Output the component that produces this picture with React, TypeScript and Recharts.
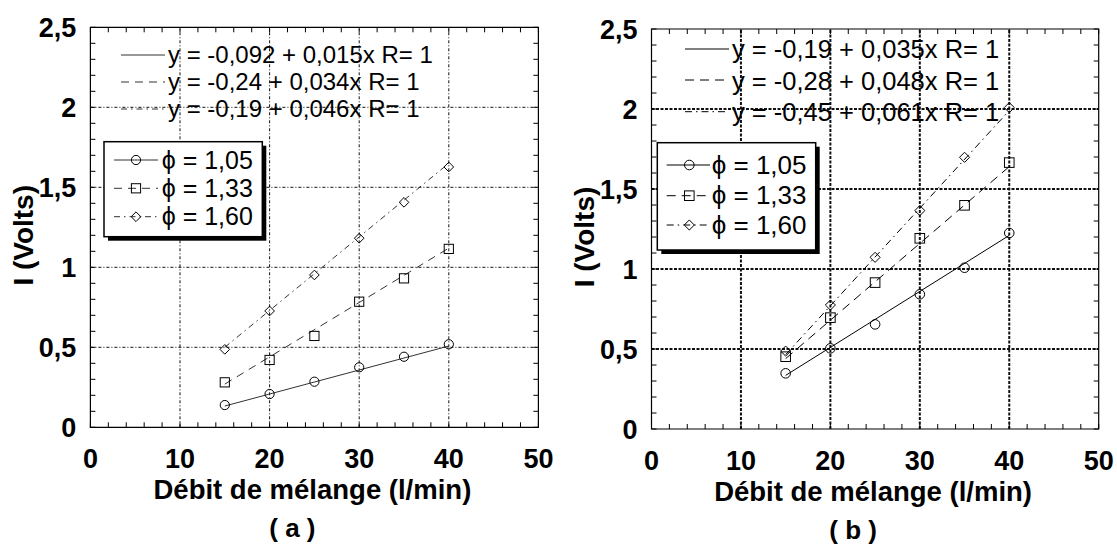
import React from 'react'
import {
  ComposedChart, XAxis, YAxis, Scatter, ReferenceLine, ReferenceArea, Label,
} from 'recharts'

// Flow rates (l/min) common to both panels
const flowRates = [15, 20, 25, 30, 35, 40]
const phiLabels = ['1,05', '1,33', '1,60']

// Panel (a): measured current I (V)
const aPhi105 = [0.139, 0.208, 0.285, 0.375, 0.441, 0.519]
const aPhi133 = [0.281, 0.421, 0.571, 0.785, 0.931, 1.115]
const aPhi160 = [0.487, 0.727, 0.952, 1.182, 1.406, 1.627]
const aIntercepts = [-0.092, -0.24, -0.19]
const aSlopes = [0.015, 0.034, 0.046]

// Panel (b)
const bPhi105 = [0.348, 0.504, 0.654, 0.842, 1.008, 1.225]
const bPhi133 = [0.452, 0.696, 0.915, 1.192, 1.398, 1.665]
const bPhi160 = [0.487, 0.775, 1.073, 1.365, 1.698, 2.009]
const bIntercepts = [-0.19, -0.28, -0.45]
const bSlopes = [0.035, 0.048, 0.061]

// Axes
const xTicks = [0, 2, 4, 6, 8, 10, 12, 14, 16, 18, 20, 22, 24, 26, 28, 30, 32, 34, 36, 38, 40, 42, 44, 46, 48, 50]
const yTicks = [0, 0.1, 0.2, 0.3, 0.4, 0.5, 0.6, 0.7, 0.8, 0.9, 1, 1.1, 1.2, 1.3, 1.4, 1.5, 1.6, 1.7, 1.8, 1.9, 2, 2.1, 2.2, 2.3, 2.4, 2.5]
const xGrid = [10, 20, 30, 40]
const yGrid = [0.5, 1, 1.5, 2]

const FONT = '"Liberation Sans", Arial, Helvetica, sans-serif'
const W = 560
const H = 545
const X_AXIS_H = 30

const comma = (v: number) => String(v).replace('.', ',')
const markerKinds = ['circle', 'square', 'diamond']

function Marker({ kind, cx, cy, size, stroke }: { kind: string; cx: number; cy: number; size: number; stroke: string }) {
  if (kind === 'circle') return <circle cx={cx} cy={cy} r={size} fill="none" stroke={stroke} strokeWidth={1} />
  if (kind === 'square') return <rect x={cx - size} y={cy - size} width={size * 2} height={size * 2} fill="none" stroke={stroke} strokeWidth={1} />
  const d = size * 1.05
  return <path d={`M${cx},${cy - d}L${cx + d},${cy}L${cx},${cy + d}L${cx - d},${cy}Z`} fill="none" stroke={stroke} strokeWidth={1} />
}

interface Panel {
  left: number
  plot: { left: number; right: number; top: number; bottom: number }
  series: number[][]
  intercepts: number[]
  slopes: number[]
  caption: string
  ink: string
  fitDash: (string | undefined)[]
  gridDash: string
  gridWidth: number
  eq: { keyX: [number, number]; keyY: number[]; textX: number; baseY: number[]; font: number }
  box: { x: number; y: number; w: number; h: number; rowY: number[]; keyX: [number, number]; markX: number; textX: number; font: number }
  markSize: number
}

const panels: Panel[] = [
  {
    left: 0,
    plot: { left: 90.4, right: 538.4, top: 27.3, bottom: 427.3 },
    series: [aPhi105, aPhi133, aPhi160],
    intercepts: aIntercepts,
    slopes: aSlopes,
    caption: '( a )',
    ink: '#333',
    fitDash: [undefined, '8 6', '6 4 1.5 4'],
    gridDash: '3 2 1 2',
    gridWidth: 1,
    eq: { keyX: [121, 165], keyY: [55, 82, 109], textX: 168, baseY: [63, 90, 117], font: 24 },
    box: { x: 104, y: 141.7, w: 158.3, h: 95, rowY: [160, 188.3, 216.7], keyX: [114, 158], markX: 136, textX: 161.7, font: 25 },
    markSize: 4.6,
  },
  {
    left: 557,
    plot: { left: 94.5, right: 541.7, top: 29, bottom: 429 },
    series: [bPhi105, bPhi133, bPhi160],
    intercepts: bIntercepts,
    slopes: bSlopes,
    caption: '( b )',
    ink: '#000',
    fitDash: [undefined, '9 6', '7 4 1.5 4'],
    gridDash: '3 1.5',
    gridWidth: 2,
    eq: { keyX: [128, 172], keyY: [49, 80, 111.7], textX: 175, baseY: [58.3, 90, 120.7], font: 25.5 },
    box: { x: 100.3, y: 142.7, w: 158.4, h: 107.3, rowY: [165, 195.7, 225], keyX: [109.7, 153], markX: 132.3, textX: 154.7, font: 26 },
    markSize: 4.8,
  },
]

function PanelChart({ p }: { p: Panel }) {
  const { plot } = p
  const plotW = plot.right - plot.left
  const plotH = plot.bottom - plot.top
  const cx = (plot.left + plot.right) / 2
  const cy = (plot.top + plot.bottom) / 2
  const x0 = flowRates[0]
  const x1 = flowRates[flowRates.length - 1]

  const bottomTick = (t: any) => {
    const v = t.payload.value
    return (
      <g>
        <line x1={t.x} x2={t.x} y1={t.y} y2={t.y - 5} stroke="#000" />
        <line x1={t.x} x2={t.x} y1={t.y - plotH} y2={t.y - plotH + 5} stroke="#000" />
        {v % 10 === 0 && (
          <text x={t.x} y={t.y + 41} textAnchor="middle" fontFamily={FONT} fontWeight="bold" fontSize={27} fill="#000">
            {v}
          </text>
        )}
      </g>
    )
  }

  const leftTick = (t: any) => {
    const v = t.payload.value
    const major = Math.round(v * 10) % 5 === 0
    return (
      <g>
        <line x1={t.x} x2={t.x + 5} y1={t.y} y2={t.y} stroke="#000" />
        <line x1={t.x + plotW} x2={t.x + plotW - 5} y1={t.y} y2={t.y} stroke="#000" />
        {major && (
          <text x={t.x - 14} y={t.y + 9.6} textAnchor="end" fontFamily={FONT} fontWeight="bold" fontSize={27} fill="#000">
            {comma(Math.round(v * 10) / 10)}
          </text>
        )}
      </g>
    )
  }

  return (
    <div style={{ position: 'absolute', left: p.left, top: 0, width: W, height: H }}>
      <ComposedChart
        width={W}
        height={H}
        margin={{ top: plot.top, right: W - plot.right, bottom: H - plot.bottom - X_AXIS_H, left: 0 }}
      >
        <XAxis
          type="number"
          dataKey="x"
          domain={[0, 50]}
          ticks={xTicks}
          interval={0}
          height={X_AXIS_H}
          tickSize={0}
          tickMargin={0}
          tickLine={false}
          axisLine={false}
          tick={bottomTick}
        >
          <Label
            content={() => (
              <text x={cx - 2} y={plot.bottom + 72} textAnchor="middle" fontFamily={FONT} fontWeight="bold" fontSize={27.5} fill="#000">
                Débit de mélange (l/min)
              </text>
            )}
          />
        </XAxis>
        <YAxis
          type="number"
          dataKey="y"
          domain={[0, 2.5]}
          ticks={yTicks}
          interval={0}
          width={plot.left}
          tickSize={0}
          tickMargin={0}
          tickLine={false}
          axisLine={false}
          tick={leftTick}
        >
          <Label
            content={() => (
              <text
                x={plot.left - 67}
                y={cy + 8}
                transform={`rotate(-90 ${plot.left - 67} ${cy + 8})`}
                textAnchor="middle"
                dominantBaseline="central"
                fontFamily={FONT}
                fontWeight="bold"
                fontSize={28}
                fill="#000"
              >
                I (Volts)
              </text>
            )}
          />
        </YAxis>

        {xGrid.map(v => (
          <ReferenceLine key={`gx${v}`} x={v} stroke="#111" strokeWidth={p.gridWidth} strokeDasharray={p.gridDash} />
        ))}
        {yGrid.map(v => (
          <ReferenceLine key={`gy${v}`} y={v} stroke="#111" strokeWidth={p.gridWidth} strokeDasharray={p.gridDash} />
        ))}
        <ReferenceArea x1={0} x2={50} y1={0} y2={2.5} fill="none" stroke="#000" strokeWidth={1.2} />

        {/* least-squares fits, from the printed coefficients */}
        {p.intercepts.map((b, i) => (
          <ReferenceLine
            key={`fit${i}`}
            segment={[{ x: x0, y: b + p.slopes[i] * x0 }, { x: x1, y: b + p.slopes[i] * x1 }]}
            stroke={p.ink}
            strokeWidth={1}
            strokeDasharray={p.fitDash[i]}
          />
        ))}

        {p.series.map((vals, i) => (
          <Scatter
            key={`s${i}`}
            name={`ϕ = ${phiLabels[i]}`}
            data={flowRates.map((x, j) => ({ x, y: vals[j] }))}
            isAnimationActive={false}
            shape={(s: any) => <Marker kind={markerKinds[i]} cx={s.cx} cy={s.cy} size={p.markSize} stroke="#000" />}
          />
        ))}
      </ComposedChart>

      {/* legends and caption */}
      <svg width={W} height={H} style={{ position: 'absolute', left: 0, top: 0, pointerEvents: 'none' }}>
        {p.intercepts.map((b, i) => (
          <g key={`eq${i}`}>
            <line x1={p.eq.keyX[0]} x2={p.eq.keyX[1]} y1={p.eq.keyY[i]} y2={p.eq.keyY[i]} stroke={p.ink} strokeWidth={1} strokeDasharray={p.fitDash[i]} />
            <text x={p.eq.textX} y={p.eq.baseY[i]} fontFamily={FONT} fontSize={p.eq.font} fill="#000">
              {`y = ${comma(b)} + ${comma(p.slopes[i])}x R= 1`}
            </text>
          </g>
        ))}

        <rect x={p.box.x + 4} y={p.box.y + 4} width={p.box.w} height={p.box.h} fill="#000" />
        <rect x={p.box.x} y={p.box.y} width={p.box.w} height={p.box.h} fill="#fff" stroke="#000" strokeWidth={1.5} />
        {phiLabels.map((lab, i) => (
          <g key={`lg${i}`}>
            <line x1={p.box.keyX[0]} x2={p.box.keyX[1]} y1={p.box.rowY[i]} y2={p.box.rowY[i]} stroke={p.ink} strokeWidth={1} strokeDasharray={p.fitDash[i]} />
            <Marker kind={markerKinds[i]} cx={p.box.markX} cy={p.box.rowY[i]} size={p.markSize} stroke="#000" />
            <text x={p.box.textX} y={p.box.rowY[i] + 8.5} fontFamily={FONT} fontSize={p.box.font} fill="#000">
              {`ϕ = ${lab}`}
            </text>
          </g>
        ))}

        <text x={cx - 22} y={plot.bottom + 110} textAnchor="middle" fontFamily={FONT} fontWeight="bold" fontSize={26} fill="#000">
          {p.caption}
        </text>
      </svg>
    </div>
  )
}

export default function App() {
  return (
    <div style={{ position: 'absolute', left: 0, top: 0, width: 1117, height: 545, background: '#fff', overflow: 'hidden' }}>
      {panels.map((p, i) => <PanelChart key={i} p={p} />)}
    </div>
  )
}
